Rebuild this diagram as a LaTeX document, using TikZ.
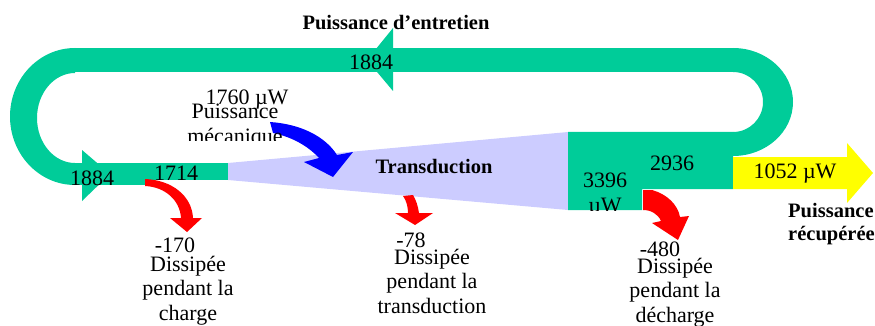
\documentclass[tikz,border=0pt]{standalone}
\usepackage{fontspec}
\setmainfont{Liberation Serif}
\usepackage{xcolor}
\usepackage{tikz}
\tikzset{
  flowlabel/.style={font=\fontsize{22}{24.5}\selectfont, inner sep=0pt, anchor=base, align=center},
  flowtitle/.style={flowlabel, font=\fontsize{20.5}{22.5}\selectfont\bfseries}
}
\definecolor{FlowGreen}{HTML}{00CC99}
\definecolor{FlowLavender}{HTML}{CCCCFF}
\definecolor{FlowBlue}{HTML}{0000FF}
\definecolor{FlowRed}{HTML}{FF0000}
\definecolor{FlowYellow}{HTML}{FFFF00}
\begin{document}
\begin{tikzpicture}[
  x=1pt, y=-1pt,
  loop/.style={fill=FlowGreen},
  loss/.style={fill=FlowRed}
]
\useasboundingbox (0,0) rectangle (875,326);
\fill[FlowLavender] (228,163) -- (568,132) -- (568,210) -- (228,180) -- cycle;

\fill[loop] (75,48) rectangle (733,72.5);
\fill[loop] (393,28) -- (367,60) -- (393,91) -- cycle;
\fill[loop] (75,48) arc[start angle=270, end angle=90, x radius=65, y radius=68.5]
  -- (75,163) arc[start angle=90, end angle=270, x radius=38, y radius=45] -- cycle;
\fill[loop] (75,163) rectangle (145,185);
\fill[loop] (145,163) rectangle (228,180);
\fill[loop] (82,150) -- (110,174) -- (82,201) -- cycle;
\fill[loop] (733,48) arc[start angle=270, end angle=450, x radius=60, y radius=54]
  -- (733,132) arc[start angle=90, end angle=-90, radius=30] -- cycle;
\fill[loop] (568,132) -- (733,132) -- (733,189) -- (642,189) -- (642,210) -- (568,210) -- cycle;

\fill[FlowYellow] (733,157) -- (847,157) -- (847,143) -- (873,173) -- (847,203) -- (847,189) -- (733,189) -- cycle;
\fill[FlowBlue] (270,122) .. controls (300,124) and (325,136) .. (337,155) -- (353,152) -- (333,177) -- (304,162)
  -- (319,158) .. controls (308,146) and (292,137) .. (273,133) -- cycle;
\fill[loss] (145,179) .. controls (172,180) and (192,196) .. (193,218) -- (202,218) -- (187,232) -- (170,218)
  -- (181,218) .. controls (180,201) and (166,187) .. (145,186) -- cycle;
\fill[loss] (403,196) -- (413,195) .. controls (416,200) and (418,206) .. (419,213) -- (433,213) -- (415,225)
  -- (395,213) -- (408,213) .. controls (408,206) and (406,200) .. (403,196) -- cycle;
\fill[loss] (643,190) -- (652,190) .. controls (667,194) and (678,205) .. (680,217) -- (689,216) -- (678,240)
  -- (652,223) -- (661,221) .. controls (658,214) and (651,210) .. (643,210) -- cycle;

\node[flowtitle] (entretien) at (396,30) {Puissance d’entretien};
\node[flowlabel] (looptop) at (371,70) {1884};
\node[flowlabel] (mecval) at (247,105) {1760 µW};
\begin{scope}
  \clip (150,90) rectangle (330,141);
  \node[flowlabel] (meclabel) at (235,143) {Puissance\\mécanique};
\end{scope}
\node[flowtitle] (transd) at (434,173) {Transduction};
\node[flowlabel] (loopin) at (92,185) {1884};
\node[flowlabel] (charge) at (176,180) {1714};
\node[flowlabel] (losscharge) at (175,252) {-170};
\node[flowlabel] (txtcharge) at (188,320) {Dissipée\\pendant la\\charge};
\node[flowlabel] (losstransd) at (411,247) {-78};
\node[flowlabel] (txttransd) at (432,313) {Dissipée\\pendant la\\transduction};
\begin{scope}
  \clip (568,132) rectangle (642,210);
  \node[flowlabel] (total) at (605,212) {3396\\µW};
\end{scope}
\node[flowlabel] (back) at (672,170) {2936};
\node[flowlabel] (output) at (795,178) {1052 µW};
\node[flowtitle, align=left, anchor=base west] (outlabel) at (788,240) {Puissance\\récupérée};
\node[flowlabel] (lossdecharge) at (660,256) {-480};
\node[flowlabel] (txtdecharge) at (675,322) {Dissipée\\pendant la\\décharge};
\end{tikzpicture}
\end{document}
